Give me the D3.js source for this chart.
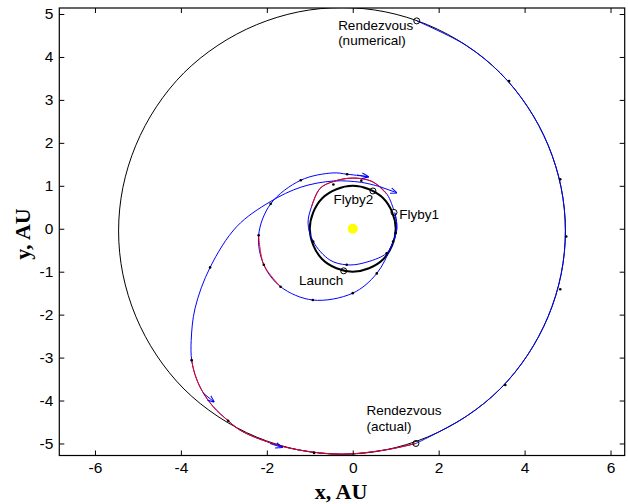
<!DOCTYPE html>
<html><head><meta charset="utf-8">
<script src="https://cdn.jsdelivr.net/npm/d3@7"></script>
<style>
html,body{margin:0;padding:0;background:#fff;}
svg{display:block;}
</style></head>
<body>
<svg id="chart" width="628" height="504"></svg>
<script>
// ---------------- data (AU) ----------------
const xTicks = [-6, -4, -2, 0, 2, 4, 6];
const yTicks = [-5, -4, -3, -2, -1, 0, 1, 2, 3, 4, 5];
const xDomain = [-6.83, 6.33];
const yDomain = [-5.28, 5.14];

// target (Jupiter) orbit, closed
const targetOrbit = [[4.95,-0.05],[4.85,0.96],[4.55,1.94],[4.07,2.84],[3.43,3.63],[2.64,4.27],[1.74,4.75],[0.76,5.05],[-0.25,5.15],[-1.26,5.05],[-2.24,4.75],[-3.14,4.27],[-3.93,3.63],[-4.57,2.84],[-5.05,1.94],[-5.35,0.96],[-5.45,-0.05],[-5.35,-1.06],[-5.05,-2.04],[-4.57,-2.94],[-3.93,-3.73],[-3.14,-4.37],[-2.24,-4.85],[-1.26,-5.15],[-0.25,-5.25],[0.76,-5.15],[1.74,-4.85],[2.64,-4.37],[3.43,-3.73],[4.07,-2.94],[4.55,-2.04],[4.85,-1.06]];
// Earth orbit, closed
const earthOrbit = [[1.0,0],[0.92,0.38],[0.71,0.71],[0.38,0.92],[0,1.0],[-0.38,0.92],[-0.71,0.71],[-0.92,0.38],[-1.0,0],[-0.92,-0.38],[-0.71,-0.71],[-0.38,-0.92],[0,-1.0],[0.38,-0.92],[0.71,-0.71],[0.92,-0.38]];
// trajectory legs
const leg1 = [[0.98,0.36],[1.02,0.05],[0.94,-0.30],[0.79,-0.57],[0.24,-0.80],[-0.14,-0.84],[-0.53,-0.73],[-0.92,-0.30],[-1.04,0.13],[-0.96,0.51],[-0.76,0.94],[-0.45,1.10],[0.0,1.18],[0.45,1.10],[0.80,0.80],[0.95,0.45]];
const leg1Thrust = [[-0.96,0.51],[-0.76,0.94],[-0.45,1.10],[0.0,1.18],[0.45,1.10],[0.80,0.80]];
const leg2 = [[0.98,0.38],[1.03,0.0],[0.89,-0.42],[0.56,-1.04],[0.0,-1.5],[-0.93,-1.66],[-1.68,-1.35],[-2.07,-0.84],[-2.19,-0.15],[-1.91,0.58],[-1.21,1.13],[-0.46,1.30],[-0.13,1.27],[0.36,1.21]];
const leg2Thrust = [[-2.19,-0.15],[-2.07,-0.84],[-1.68,-1.35]];
const leg3 = [[0.63,0.98],[0.2,1.08],[-0.46,1.11],[-1.2,0.97],[-1.92,0.63],[-2.7,0.05],[-3.32,-0.9],[-3.67,-1.85],[-3.76,-2.6],[-3.75,-3.06],[-3.67,-3.40],[-3.52,-3.75],[-3.25,-4.14],[-2.90,-4.47],[-2.59,-4.71],[-1.93,-4.98],[-1.26,-5.15],[-0.25,-5.25],[0.76,-5.15],[1.47,-5.0]];
const leg3Thrust = [[-3.75,-3.06],[-3.67,-3.40],[-3.52,-3.75],[-3.25,-4.14],[-2.90,-4.47],[-2.59,-4.71],[-1.93,-4.98],[-1.26,-5.15],[-0.25,-5.25],[0.76,-5.15],[1.47,-5.0]];
const leg4 = [[1.47,-5.0],[2.64,-4.37],[3.43,-3.73],[4.07,-2.94],[4.55,-2.04],[4.85,-1.06],[4.95,-0.05],[4.85,0.96],[4.55,1.94],[4.07,2.84],[3.43,3.63],[2.64,4.27],[1.49,4.84]];
// thrust direction arrows [from, to]
const arrows = [[[0.10,1.25],[0.36,1.21]],[[0.63,0.98],[1.02,0.84]],[[-3.48,-3.83],[-3.23,-4.03]],[[-1.93,-5.0],[-1.65,-5.09]]];
// sample dots along the trajectory
const dots = [[3.64,3.44],[4.83,1.15],[4.97,-0.18],[4.83,-1.41],[3.55,-3.64],[-3.32,-0.90],[-3.75,-3.06],[-2.90,-4.47],[-0.9,-5.22],[-1.91,0.58],[-1.21,1.13],[-0.13,1.27],[-2.19,-0.15],[-2.07,-0.84],[-1.68,-1.35],[-0.93,-1.66],[0.0,-1.5],[0.56,-1.04],[-0.45,1.03],[0.2,1.12],[-0.92,-0.30],[-0.14,-0.84],[0.79,-0.57],[0.94,-0.30],[1.0,-0.1]];
// event markers
const events = [
  {name:"Launch", x:-0.21, y:-0.98},
  {name:"Flyby1", x:0.96, y:0.38},
  {name:"Flyby2", x:0.47, y:0.88},
  {name:"Rendezvous numerical", x:1.49, y:4.84},
  {name:"Rendezvous actual", x:1.47, y:-5.0}
];
const labels = [
  {text:"Rendezvous", x:-0.34, y:4.62},
  {text:"(numerical)", x:-0.34, y:4.27},
  {text:"Flyby2", x:-0.45, y:0.58},
  {text:"Flyby1", x:1.08, y:0.22},
  {text:"Launch", x:-1.25, y:-1.3},
  {text:"Rendezvous", x:0.32, y:-4.34},
  {text:"(actual)", x:0.32, y:-4.72}
];
const sun = {x:0, y:0};

// ---------------- drawing ----------------
const svg = d3.select("#chart");
const m = {left:59.3, right:624.7, top:8, bottom:455.5};
const x = d3.scaleLinear().domain(xDomain).range([m.left, m.right]);
const y = d3.scaleLinear().domain(yDomain).range([m.bottom, m.top]);

svg.append("clipPath").attr("id","clip").append("rect")
  .attr("x", m.left).attr("y", m.top).attr("width", m.right-m.left).attr("height", m.bottom-m.top);

const plot = svg.append("g").attr("clip-path","url(#clip)");
const closed = d3.line().x(d=>x(d[0])).y(d=>y(d[1])).curve(d3.curveCardinalClosed.tension(0));
const open = d3.line().x(d=>x(d[0])).y(d=>y(d[1])).curve(d3.curveCatmullRom.alpha(0.5));

plot.append("path").attr("d", closed(targetOrbit)).attr("fill","none").attr("stroke","#000").attr("stroke-width",1);
plot.append("path").attr("d", closed(earthOrbit)).attr("fill","none").attr("stroke","#000").attr("stroke-width",2);

const blue = "#0000ff", red = "#ff0000";
[leg1, leg2, leg3, leg4].forEach(l => plot.append("path").attr("d", open(l)).attr("fill","none").attr("stroke",blue).attr("stroke-width",1));
[leg1Thrust, leg2Thrust, leg3Thrust].forEach(l => plot.append("path").attr("d", open(l)).attr("fill","none").attr("stroke",red).attr("stroke-width",1));

svg.append("defs").append("marker").attr("id","ah").attr("viewBox","0 0 10 10").attr("refX",9).attr("refY",5)
  .attr("markerWidth",7).attr("markerHeight",7).attr("orient","auto")
  .append("path").attr("d","M0,1 L10,5 L0,9").attr("fill","none").attr("stroke",blue).attr("stroke-width",1.5);
arrows.forEach(a => plot.append("line").attr("x1",x(a[0][0])).attr("y1",y(a[0][1])).attr("x2",x(a[1][0])).attr("y2",y(a[1][1]))
  .attr("stroke",blue).attr("stroke-width",1).attr("marker-end","url(#ah)"));

plot.selectAll("circle.dot").data(dots).join("circle").attr("class","dot")
  .attr("cx",d=>x(d[0])).attr("cy",d=>y(d[1])).attr("r",1.3).attr("fill","#000");

plot.selectAll("circle.ev").data(events).join("circle").attr("class","ev")
  .attr("cx",d=>x(d.x)).attr("cy",d=>y(d.y)).attr("r",3).attr("fill","none").attr("stroke","#000").attr("stroke-width",1);

plot.append("circle").attr("cx",x(sun.x)).attr("cy",y(sun.y)).attr("r",5).attr("fill","#ffff00");

svg.selectAll("text.lab").data(labels).join("text").attr("class","lab")
  .attr("x",d=>x(d.x)).attr("y",d=>y(d.y)).text(d=>d.text)
  .attr("font-family","Liberation Sans, Arial, sans-serif").attr("font-size",13.5).attr("fill","#000");

// axes
const fmt = d => String(d);
const axFont = g => g.selectAll("text").attr("font-family","Liberation Sans, Arial, sans-serif").attr("font-size",15.5).attr("fill","#000");
const clean = g => { g.select(".domain").remove(); g.selectAll("line").attr("stroke","#000"); };
svg.append("g").attr("transform",`translate(0,${m.bottom})`)
  .call(d3.axisBottom(x).tickValues(xTicks).tickFormat(fmt).tickSize(-5).tickPadding(6)).call(clean).call(axFont);
svg.append("g").attr("transform",`translate(0,${m.top})`)
  .call(d3.axisTop(x).tickValues(xTicks).tickFormat("").tickSize(-5)).call(clean);
svg.append("g").attr("transform",`translate(${m.left},0)`)
  .call(d3.axisLeft(y).tickValues(yTicks).tickFormat(fmt).tickSize(-5).tickPadding(6)).call(clean).call(axFont);
svg.append("g").attr("transform",`translate(${m.right},0)`)
  .call(d3.axisRight(y).tickValues(yTicks).tickFormat("").tickSize(-5)).call(clean);

svg.append("rect").attr("x",m.left).attr("y",m.top).attr("width",m.right-m.left).attr("height",m.bottom-m.top)
  .attr("fill","none").attr("stroke","#000").attr("stroke-width",1.2);

svg.append("text").attr("x",341).attr("y",499).attr("text-anchor","middle")
  .attr("font-family","Liberation Serif, Times New Roman, serif").attr("font-weight","bold").attr("font-size",22).text("x, AU");
svg.append("text").attr("transform",`translate(30,234) rotate(-90)`).attr("text-anchor","middle")
  .attr("font-family","Liberation Serif, Times New Roman, serif").attr("font-weight","bold").attr("font-size",22).text("y, AU");
</script>
</body></html>
